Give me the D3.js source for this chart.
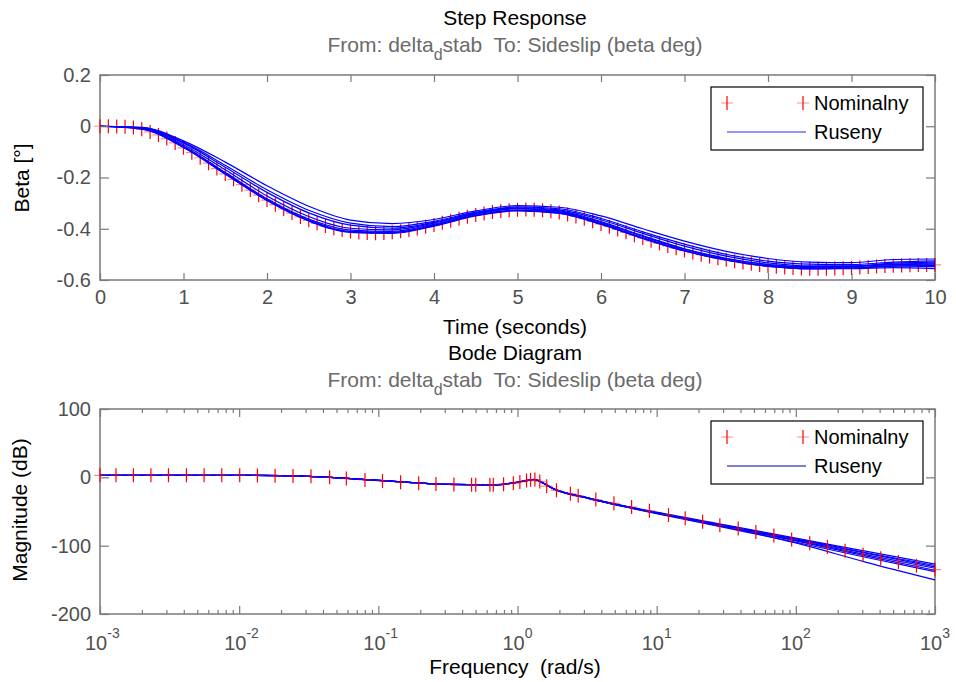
<!DOCTYPE html>
<html lang="en">
<head>
<meta charset="UTF-8">
<title>Step Response / Bode Diagram</title>
<script src="https://cdn.jsdelivr.net/npm/d3@7"></script>
<style>
    body { margin: 0; background: #fff; }
    svg text { font-family: "Liberation Sans", Arial, sans-serif; white-space: pre; }
    .frame { fill: none; stroke: #7a7a7a; stroke-width: 1.5; }
    .tick line { stroke: #7a7a7a; stroke-width: 1.2; }
    .tick text { fill: #505050; font-size: 20px; }
    .title { font-size: 21px; fill: #000; }
    .subtitle { font-size: 21px; fill: #6a6a6a; }
    .axlabel { font-size: 21px; fill: #000; }
    .legtext { font-size: 20px; fill: #000; }
    .ruseny { fill: none; stroke: #0000ff; stroke-width: 1.2; }
    .mk-v { stroke: #ff0000; stroke-width: 1.2; }
    .mk-h { stroke: #ff0000; stroke-width: 1.2; stroke-opacity: .45; }
</style>
</head>
<body>
<svg id="chart" width="956" height="682"></svg>
<script>
// ---- step response data (beta in deg) ----
const stepTime = [0,0.1,0.2,0.3,0.4,0.5,0.6,0.7,0.8,0.9,1,1.1,1.2,1.3,1.4,1.5,1.6,1.7,1.8,1.9,
    2,2.1,2.2,2.3,2.4,2.5,2.6,2.7,2.8,2.9,3,3.1,3.2,3.3,3.4,3.5,3.6,3.7,3.8,3.9,
    4,4.1,4.2,4.3,4.4,4.5,4.6,4.7,4.8,4.9,5,5.1,5.2,5.3,5.4,5.5,5.6,5.7,5.8,5.9,
    6,6.1,6.2,6.3,6.4,6.5,6.6,6.7,6.8,6.9,7,7.1,7.2,7.3,7.4,7.5,7.6,7.7,7.8,7.9,
    8,8.1,8.2,8.3,8.4,8.5,8.6,8.7,8.8,8.9,9,9.1,9.2,9.3,9.4,9.5,9.6,9.7,9.8,9.9,10];
const stepNominal = [0,0,-0.001,-0.002,-0.005,-0.012,-0.022,-0.034,-0.048,-0.065,
    -0.084,-0.103,-0.123,-0.144,-0.165,-0.186,-0.207,-0.228,-0.249,-0.269,
    -0.288,-0.306,-0.323,-0.339,-0.354,-0.367,-0.379,-0.389,-0.398,-0.405,
    -0.411,-0.415,-0.417,-0.418,-0.417,-0.414,-0.410,-0.405,-0.399,-0.392,
    -0.385,-0.377,-0.369,-0.361,-0.353,-0.346,-0.340,-0.335,-0.331,-0.328,
    -0.326,-0.325,-0.326,-0.328,-0.332,-0.337,-0.344,-0.352,-0.361,-0.371,
    -0.381,-0.392,-0.403,-0.414,-0.425,-0.436,-0.447,-0.457,-0.467,-0.476,
    -0.485,-0.493,-0.501,-0.508,-0.515,-0.521,-0.527,-0.532,-0.537,-0.541,
    -0.545,-0.548,-0.551,-0.553,-0.555,-0.556,-0.556,-0.556,-0.555,-0.554,
    -0.553,-0.551,-0.549,-0.547,-0.545,-0.544,-0.543,-0.542,-0.541,-0.541,-0.541];
const stepGridT = [0,0.5,1,1.5,2,2.5,3,3.5,4,4.5,5,5.5,6,6.5,7,7.5,8,8.5,9,9.5,10];
const stepRuseny = [
    [0,-0.010,-0.082,-0.185,-0.290,-0.370,-0.414,-0.418,-0.390,-0.350,-0.330,-0.340,-0.383,-0.438,-0.487,-0.523,-0.547,-0.555,-0.548,-0.540,-0.538],
    [0,-0.008,-0.078,-0.180,-0.283,-0.362,-0.405,-0.410,-0.382,-0.343,-0.322,-0.333,-0.376,-0.430,-0.480,-0.517,-0.540,-0.548,-0.547,-0.534,-0.530],
    [0,-0.007,-0.072,-0.170,-0.272,-0.352,-0.398,-0.404,-0.378,-0.340,-0.320,-0.330,-0.372,-0.427,-0.478,-0.515,-0.540,-0.552,-0.553,-0.545,-0.548],
    [0,-0.006,-0.066,-0.160,-0.258,-0.338,-0.386,-0.398,-0.375,-0.338,-0.318,-0.326,-0.365,-0.418,-0.468,-0.507,-0.533,-0.545,-0.545,-0.538,-0.534],
    [0,-0.005,-0.062,-0.152,-0.248,-0.328,-0.378,-0.392,-0.371,-0.335,-0.315,-0.322,-0.360,-0.412,-0.460,-0.500,-0.526,-0.538,-0.540,-0.530,-0.525],
    [0,-0.004,-0.057,-0.140,-0.232,-0.312,-0.366,-0.380,-0.364,-0.330,-0.310,-0.316,-0.350,-0.400,-0.448,-0.488,-0.516,-0.530,-0.532,-0.520,-0.518],
    [0,-0.009,-0.080,-0.183,-0.287,-0.366,-0.410,-0.414,-0.386,-0.347,-0.327,-0.336,-0.380,-0.435,-0.484,-0.520,-0.545,-0.556,-0.556,-0.552,-0.556],
    [0,-0.011,-0.083,-0.187,-0.289,-0.368,-0.412,-0.416,-0.387,-0.348,-0.328,-0.338,-0.382,-0.437,-0.486,-0.522,-0.546,-0.557,-0.554,-0.546,-0.543]
];
const stepXTicks = [0,1,2,3,4,5,6,7,8,9,10];
const stepYTicks = [0.2,0,-0.2,-0.4,-0.6];

// ---- bode magnitude data (log10 of rad/s, dB) ----
const bodeNomLogW = [-3,-2.885,-2.76,-2.634,-2.508,-2.379,-2.252,-2.125,-1.996,-1.869,-1.742,-1.613,-1.484,
    -1.35,-1.23,-1.096,-0.97,-0.84,-0.71,-0.586,-0.457,-0.33,-0.30,-0.198,-0.174,-0.10,-0.03,
    0.017,0.065,0.094,0.125,0.16,0.21,0.28,0.38,0.436,0.563,0.693,0.82,0.948,1.085,1.205,
    1.33,1.454,1.586,1.713,1.842,1.97,2.10,2.227,2.354,2.483,2.61,2.737,2.867,3];
const bodeNomMag = [3,3,3,3,3,3,3,3,3,2.8,2.5,2,1.5,
    0,-1.8,-3.8,-5.5,-7.2,-8.8,-9.8,-10.6,-11,-11,-11,-10.9,-10.2,-8.5,
    -6.8,-4.8,-3.5,-3.2,-6,-13,-19,-24,-27,-32.5,-38,-43.5,-49,-55,-60,
    -65,-70,-75,-80,-85,-91,-96.5,-102,-107.5,-113,-118.5,-124,-129.5,-135];
const bodeGridLogW = [-3,-2,-1.5,-1,-0.5,-0.2,-0.1,0,0.06,0.12,0.18,0.25,0.5,1,1.5,2,2.5,3];
const bodeRuseny = [
    [3,3,1.5,-4.5,-10.3,-11,-10.2,-7.2,-5,-3.2,-8,-16,-30,-52,-72,-92,-113,-133],
    [3,3,1.5,-4.3,-10.1,-10.8,-10,-7,-4.8,-3,-7.5,-15.5,-29.5,-51,-70,-89,-108,-127],
    [3,3,1.6,-4.4,-10.2,-10.9,-10.1,-7.1,-4.9,-3.1,-7.8,-15.8,-29.8,-51.5,-71,-90,-110,-129],
    [3,3,1.4,-4.6,-10.4,-11.1,-10.3,-7.3,-5.1,-3.3,-8.2,-16.3,-30.5,-53,-74,-95,-117,-138],
    [3,3,1.5,-4.5,-10.3,-11,-10.2,-7.2,-5,-3.2,-8.1,-16.1,-30.2,-52.5,-73,-96,-124,-150],
    [3,3,1.5,-4.5,-10.3,-11,-10.2,-7.2,-5,-3.2,-8,-16,-30,-52,-71.5,-91,-111,-131],
    [3,3,1.5,-4.5,-10.3,-11,-10.2,-7.2,-5,-3.2,-8,-16,-30,-52.5,-72.5,-93,-115,-136]
];
const bodeDecades = [-3,-2,-1,0,1,2,3];
const bodeYTicks = [100,0,-100,-200];

const legendLabels = ['Nominalny', 'Ruseny'];

let svg = d3.select('#chart');

// plot boxes
const left = 100, right = 935;
let xT = d3.scaleLinear().domain([0,10]).range([left,right]);
let yT = d3.scaleLinear().domain([-0.6,0.2]).range([280,75]);
let xB = d3.scaleLog().domain([1e-3,1e3]).range([left,right]);
let yB = d3.scaleLinear().domain([-200,100]).range([614,409]);

const fmt = d => d === 0 ? '0' : String(d);

function frame(x, y) {
    svg.append('rect').attr('class','frame')
        .attr('x', x.range()[0]).attr('y', y.range()[1])
        .attr('width', x.range()[1]-x.range()[0])
        .attr('height', y.range()[0]-y.range()[1]);
}

function plusMarks(g, pts, sx, sy) {
    g.append('path').attr('class','mk-h')
        .attr('d', pts.map(p => `M${sx(p[0])-6},${sy(p[1])}h12`).join(''));
    g.append('path').attr('class','mk-v')
        .attr('d', pts.map(p => `M${sx(p[0])},${sy(p[1])-7}v14`).join(''));
}

function legend(y0, lineColor, lineOpacity, lineWidth) {
    let g = svg.append('g');
    g.append('rect').attr('x',711).attr('y',y0).attr('width',212).attr('height',63)
        .attr('fill','#fff').attr('stroke','#000').attr('stroke-width',1.2);
    plusMarks(g, [[727,y0+16],[803,y0+16]], d=>d, d=>d);
    g.append('line').attr('x1',727).attr('x2',806).attr('y1',y0+45).attr('y2',y0+45)
        .attr('stroke',lineColor).attr('stroke-opacity',lineOpacity).attr('stroke-width',lineWidth);
    g.selectAll('.legtext').data(legendLabels).enter().append('text')
        .attr('class','legtext').attr('x',814).attr('y',(d,i)=>y0+23+i*29).text(d=>d);
}

function subtitle(y) {
    let t = svg.append('text').attr('class','subtitle').attr('x',515).attr('y',y)
        .attr('text-anchor','middle');
    t.append('tspan').text('From: delta');
    t.append('tspan').attr('dy',8).attr('font-size',16).text('d');
    t.append('tspan').attr('dy',-8).text('stab  To: Sideslip (beta deg)');
}

// ================= Step response =================
frame(xT, yT);
let stepPlot = svg.append('g');
plusMarks(stepPlot, stepTime.map((t,i)=>[t, stepNominal[i]]), xT, yT);
let stepLine = d3.line().x((d,i)=>xT(stepGridT[i])).y(d=>yT(d)).curve(d3.curveMonotoneX);
stepPlot.selectAll('.ruseny').data(stepRuseny).enter().append('path')
    .attr('class','ruseny').attr('d', stepLine);

let ax;
ax = svg.append('g').attr('transform','translate(0,280)')
    .call(d3.axisBottom(xT).tickValues(stepXTicks).tickFormat(fmt).tickSize(-7).tickSizeOuter(0).tickPadding(10));
ax.select('.domain').remove();
ax = svg.append('g').attr('transform','translate(0,75)')
    .call(d3.axisTop(xT).tickValues(stepXTicks).tickFormat('').tickSize(-7).tickSizeOuter(0));
ax.select('.domain').remove();
ax = svg.append('g').attr('transform',`translate(${left},0)`)
    .call(d3.axisLeft(yT).tickValues(stepYTicks).tickFormat(fmt).tickSize(-9).tickSizeOuter(0).tickPadding(9));
ax.select('.domain').remove();
ax = svg.append('g').attr('transform',`translate(${right},0)`)
    .call(d3.axisRight(yT).tickValues(stepYTicks).tickFormat('').tickSize(-9).tickSizeOuter(0));
ax.select('.domain').remove();

svg.append('text').attr('class','title').attr('x',515).attr('y',25).attr('text-anchor','middle').text('Step Response');
subtitle(52);
svg.append('text').attr('class','axlabel').attr('x',515).attr('y',334).attr('text-anchor','middle').text('Time (seconds)');
svg.append('text').attr('class','axlabel').attr('text-anchor','middle')
    .attr('transform','translate(29,178) rotate(-90)').text('Beta [°]');
legend(87, '#4040ff', 0.75, 1.3);

// ================= Bode diagram =================
frame(xB, yB);
let bodePlot = svg.append('g');
let bodeLine = d3.line().x((d,i)=>xB(Math.pow(10, bodeGridLogW[i]))).y(d=>yB(d)).curve(d3.curveMonotoneX);
bodePlot.selectAll('.ruseny').data(bodeRuseny).enter().append('path')
    .attr('class','ruseny').attr('d', bodeLine);
plusMarks(bodePlot, bodeNomLogW.map((e,i)=>[Math.pow(10,e), bodeNomMag[i]]), xB, yB);

let majors = bodeDecades.map(e => Math.pow(10,e));
let minors = [];
bodeDecades.slice(0,-1).forEach(e => [2,3,4,5,6,7,8,9].forEach(k => minors.push(k*Math.pow(10,e))));

[[614, d3.axisBottom], [409, d3.axisTop]].forEach(([yy, axisFn]) => {
    let a = svg.append('g').attr('transform',`translate(0,${yy})`)
        .call(axisFn(xB).tickValues(majors).tickFormat('').tickSize(-8).tickSizeOuter(0));
    a.select('.domain').remove();
    a = svg.append('g').attr('transform',`translate(0,${yy})`)
        .call(axisFn(xB).tickValues(minors).tickFormat('').tickSize(-4).tickSizeOuter(0));
    a.select('.domain').remove();
});
ax = svg.append('g').attr('transform',`translate(${left},0)`)
    .call(d3.axisLeft(yB).tickValues(bodeYTicks).tickFormat(fmt).tickSize(-9).tickSizeOuter(0).tickPadding(9));
ax.select('.domain').remove();
ax = svg.append('g').attr('transform',`translate(${right},0)`)
    .call(d3.axisRight(yB).tickValues(bodeYTicks).tickFormat('').tickSize(-9).tickSizeOuter(0));
ax.select('.domain').remove();

// decade labels 10^k
let decLab = svg.append('g').selectAll('text').data(bodeDecades).enter().append('text')
    .attr('x', e => xB(Math.pow(10,e)) - 15).attr('y', 650)
    .attr('fill','#505050').attr('font-size',20);
decLab.append('tspan').text('10');
decLab.append('tspan').attr('dy',-12).attr('font-size',14).text(e => e < 0 ? '-' + (-e) : String(e));

svg.append('text').attr('class','title').attr('x',515).attr('y',360).attr('text-anchor','middle').text('Bode Diagram');
subtitle(387);
svg.append('text').attr('class','axlabel').attr('x',515).attr('y',674).attr('text-anchor','middle').text('Frequency  (rad/s)');
svg.append('text').attr('class','axlabel').attr('text-anchor','middle')
    .attr('transform','translate(27,510) rotate(-90)').text('Magnitude (dB)');
legend(421, '#0000a0', 1, 1);
</script>
</body>
</html>
